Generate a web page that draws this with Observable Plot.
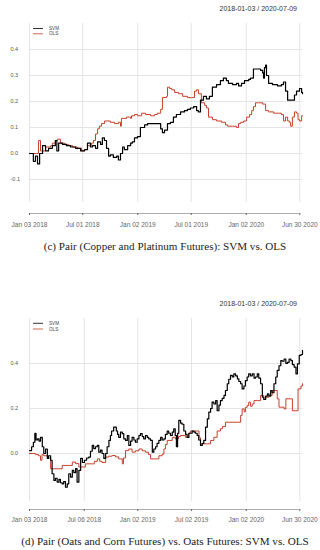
<!DOCTYPE html>
<html><head><meta charset="utf-8">
<script src="https://cdn.jsdelivr.net/npm/d3@7"></script>
<script src="https://cdn.jsdelivr.net/npm/@observablehq/plot@0.6"></script>
<style>
body{margin:0;background:#fff;}
#wrap{position:relative;width:320px;height:550px;overflow:hidden;font-family:"Liberation Sans",Arial,sans-serif;}
.abs{position:absolute;}
.range{font-size:7px;color:#333;right:23px;line-height:1;white-space:nowrap;}
.cap{font-family:"Liberation Serif","Times New Roman",serif;font-size:11.1px;color:#222;width:320px;text-align:center;left:5px;line-height:1;white-space:nowrap;}
</style></head>
<body><div id="wrap"></div>
<script>
// ---------- Chart (c): Copper and Platinum ----------
const svmC = [
["2018-01-03",0.000],["2018-01-16",-0.030],["2018-01-23",-0.010],["2018-01-30",-0.040],["2018-02-06",0.000],
["2018-02-16",0.030],["2018-02-26",0.010],["2018-03-08",0.020],["2018-03-21",0.030],["2018-03-31",0.050],
["2018-04-05",0.010],["2018-04-11",0.040],["2018-04-24",0.035],["2018-05-07",0.030],["2018-05-21",0.025],
["2018-06-07",0.020],["2018-06-24",0.010],["2018-07-07",0.015],["2018-07-17",0.040],["2018-07-27",0.025],
["2018-08-03",0.030],["2018-08-13",0.020],["2018-08-20",0.045],["2018-08-30",0.035],["2018-09-05",0.060],
["2018-09-12",0.050],["2018-09-19",0.020],["2018-09-26",-0.010],["2018-10-02",-0.005],["2018-10-12",-0.015],
["2018-10-23",-0.010],["2018-10-29",-0.025],["2018-11-05",0.000],["2018-11-12",0.025],["2018-11-18",0.015],
["2018-11-29",0.030],["2018-12-09",0.040],["2018-12-15",0.045],["2018-12-22",0.060],["2019-01-01",0.065],
["2019-01-11",0.100],["2019-01-25",0.110],["2019-02-04",0.115],["2019-02-21",0.115],["2019-03-09",0.115],
["2019-03-20",0.095],["2019-03-26",0.080],["2019-04-02",0.090],["2019-04-12",0.115],["2019-04-22",0.120],
["2019-05-02",0.140],["2019-05-12",0.150],["2019-05-26",0.160],["2019-06-08",0.165],["2019-06-18",0.170],
["2019-06-28",0.175],["2019-07-09",0.180],["2019-07-19",0.165],["2019-07-25",0.160],["2019-08-01",0.205],
["2019-08-11",0.220],["2019-08-21",0.210],["2019-08-31",0.220],["2019-09-10",0.255],["2019-09-24",0.265],
["2019-10-07",0.280],["2019-10-17",0.290],["2019-10-27",0.280],["2019-11-03",0.270],["2019-11-17",0.265],
["2019-11-30",0.270],["2019-12-07",0.260],["2019-12-17",0.270],["2019-12-27",0.280],["2020-01-10",0.285],
["2020-01-16",0.290],["2020-01-26",0.325],["2020-02-09",0.325],["2020-02-19",0.320],["2020-02-26",0.310],
["2020-02-29",0.290],["2020-03-03",0.330],["2020-03-07",0.340],["2020-03-10",0.300],["2020-03-17",0.270],
["2020-03-30",0.265],["2020-04-16",0.260],["2020-04-29",0.265],["2020-05-06",0.275],["2020-05-13",0.240],
["2020-05-20",0.205],["2020-06-05",0.205],["2020-06-12",0.225],["2020-06-19",0.240],["2020-06-29",0.250],
["2020-07-06",0.235],["2020-07-09",0.230]
];
const olsC = [
["2018-01-03",0.000],["2018-01-27",0.000],["2018-02-02",0.050],["2018-02-09",0.010],["2018-02-26",0.025],
["2018-03-15",0.030],["2018-03-21",0.040],["2018-03-31",0.050],["2018-04-07",0.055],["2018-04-17",0.040],
["2018-05-01",0.035],["2018-05-14",0.030],["2018-05-28",0.025],["2018-06-13",0.020],["2018-06-27",0.010],
["2018-07-07",0.015],["2018-07-17",0.030],["2018-07-31",0.040],["2018-08-06",0.050],["2018-08-13",0.075],
["2018-08-20",0.095],["2018-08-26",0.105],["2018-09-02",0.115],["2018-09-12",0.125],["2018-10-02",0.120],
["2018-10-16",0.115],["2018-10-29",0.120],["2018-11-05",0.105],["2018-11-08",0.135],["2018-11-25",0.140],
["2018-12-09",0.135],["2018-12-12",0.145],["2018-12-22",0.150],["2019-01-01",0.145],["2019-01-15",0.155],
["2019-01-28",0.150],["2019-02-14",0.145],["2019-02-27",0.150],["2019-03-09",0.155],["2019-03-20",0.170],
["2019-03-26",0.215],["2019-04-09",0.220],["2019-04-12",0.255],["2019-04-19",0.250],["2019-04-26",0.245],
["2019-05-06",0.235],["2019-05-19",0.230],["2019-06-02",0.220],["2019-06-18",0.215],["2019-07-02",0.215],
["2019-07-12",0.240],["2019-07-19",0.245],["2019-07-25",0.230],["2019-08-04",0.195],["2019-08-15",0.185],
["2019-08-21",0.175],["2019-08-28",0.140],["2019-09-10",0.130],["2019-09-24",0.125],["2019-10-11",0.120],
["2019-10-24",0.110],["2019-10-31",0.105],["2019-11-17",0.105],["2019-11-30",0.100],["2019-12-07",0.115],
["2019-12-14",0.120],["2019-12-24",0.125],["2020-01-03",0.140],["2020-01-13",0.150],["2020-01-20",0.165],
["2020-01-26",0.180],["2020-02-02",0.195],["2020-02-12",0.195],["2020-02-26",0.190],["2020-03-07",0.165],
["2020-03-17",0.160],["2020-04-03",0.155],["2020-04-19",0.155],["2020-04-29",0.150],["2020-05-06",0.125],
["2020-05-13",0.140],["2020-05-20",0.125],["2020-05-26",0.120],["2020-05-30",0.105],["2020-06-05",0.140],
["2020-06-12",0.160],["2020-06-19",0.155],["2020-06-24",0.130],["2020-06-29",0.125],["2020-07-06",0.145],
["2020-07-09",0.145]
];
const ticksC = ["2018-01-03","2018-07-01","2019-01-02","2019-07-01","2020-01-02","2020-06-30"];
const tickLabelsC = ["Jan 03 2018","Jul 01 2018","Jan 02 2019","Jul 01 2019","Jan 02 2020","Jun 30 2020"];
const yTicksC = [-0.1, 0.0, 0.1, 0.2, 0.3, 0.4];

// ---------- Chart (d): Oats and Corn ----------
const svmD = [
["2018-01-03",0.013],["2018-01-10",0.030],["2018-01-16",0.050],["2018-01-21",0.090],["2018-01-25",0.060],
["2018-01-30",0.065],["2018-02-04",0.055],["2018-02-09",0.072],["2018-02-15",0.030],["2018-02-20",0.000],
["2018-02-26",0.020],["2018-03-04",-0.022],["2018-03-08",-0.010],["2018-03-15",-0.030],["2018-03-20",-0.090],
["2018-03-26",-0.120],["2018-03-31",-0.110],["2018-04-06",-0.127],["2018-04-12",-0.115],["2018-04-17",-0.130],
["2018-04-23",-0.135],["2018-04-28",-0.125],["2018-05-04",-0.150],["2018-05-10",-0.135],["2018-05-15",-0.090],
["2018-05-21",-0.105],["2018-05-27",-0.075],["2018-06-01",-0.085],["2018-06-07",-0.067],["2018-06-12",-0.127],
["2018-06-18",-0.075],["2018-06-24",-0.022],["2018-06-30",-0.040],["2018-07-07",-0.030],["2018-07-14",-0.020],
["2018-07-21",-0.016],["2018-07-27",0.010],["2018-08-02",0.036],["2018-08-07",0.022],["2018-08-13",0.030],
["2018-08-19",0.036],["2018-08-24",0.006],["2018-08-30",0.015],["2018-09-04",0.000],["2018-09-10",-0.022],
["2018-09-16",0.000],["2018-09-21",0.030],["2018-09-27",0.058],["2018-10-02",0.080],["2018-10-06",0.100],
["2018-10-13",0.117],["2018-10-22",0.100],["2018-10-26",0.085],["2018-10-30",0.072],["2018-11-05",0.095],
["2018-11-11",0.088],["2018-11-16",0.065],["2018-11-22",0.058],["2018-11-28",0.080],["2018-12-03",0.036],
["2018-12-09",0.055],["2018-12-14",0.072],["2018-12-20",0.060],["2018-12-25",0.050],["2018-12-31",0.065],
["2019-01-06",0.080],["2019-01-11",0.088],["2019-01-17",0.075],["2019-01-22",0.065],["2019-01-28",0.080],
["2019-02-03",0.072],["2019-02-08",0.065],["2019-02-14",0.058],["2019-02-20",0.006],["2019-02-25",0.020],
["2019-03-03",0.030],["2019-03-08",0.045],["2019-03-14",0.058],["2019-03-20",0.072],["2019-03-25",0.060],
["2019-03-31",0.065],["2019-04-05",0.085],["2019-04-11",0.100],["2019-04-16",0.090],["2019-04-22",0.080],
["2019-04-28",0.095],["2019-05-03",0.110],["2019-05-08",0.080],["2019-05-12",0.030],["2019-05-16",0.090],
["2019-05-20",0.147],["2019-05-26",0.135],["2019-05-31",0.130],["2019-06-06",0.100],["2019-06-12",0.085],
["2019-06-17",0.072],["2019-06-23",0.090],["2019-06-28",0.090],["2019-07-04",0.100],["2019-07-10",0.095],
["2019-07-15",0.090],["2019-07-21",0.080],["2019-07-26",0.060],["2019-08-01",0.036],["2019-08-07",0.045],
["2019-08-12",0.058],["2019-08-18",0.117],["2019-08-24",0.154],["2019-08-29",0.184],["2019-09-04",0.200],
["2019-09-09",0.228],["2019-09-15",0.220],["2019-09-21",0.235],["2019-09-26",0.190],["2019-10-02",0.215],
["2019-10-07",0.235],["2019-10-13",0.245],["2019-10-19",0.258],["2019-10-24",0.280],["2019-10-30",0.310],
["2019-11-04",0.330],["2019-11-10",0.347],["2019-11-16",0.340],["2019-11-21",0.354],["2019-11-27",0.345],
["2019-12-03",0.332],["2019-12-08",0.320],["2019-12-14",0.310],["2019-12-19",0.287],["2019-12-25",0.300],
["2019-12-30",0.324],["2020-01-05",0.340],["2020-01-10",0.354],["2020-01-16",0.345],["2020-01-22",0.354],
["2020-01-28",0.335],["2020-02-02",0.340],["2020-02-08",0.354],["2020-02-13",0.335],["2020-02-19",0.310],
["2020-02-25",0.250],["2020-03-01",0.240],["2020-03-07",0.255],["2020-03-13",0.265],["2020-03-18",0.255],
["2020-03-24",0.280],["2020-03-29",0.270],["2020-04-04",0.310],["2020-04-10",0.340],["2020-04-15",0.369],
["2020-04-21",0.390],["2020-04-27",0.413],["2020-05-02",0.410],["2020-05-08",0.420],["2020-05-14",0.400],
["2020-05-19",0.405],["2020-05-25",0.420],["2020-05-31",0.413],["2020-06-05",0.395],["2020-06-11",0.384],
["2020-06-17",0.354],["2020-06-22",0.398],["2020-06-28",0.436],["2020-07-04",0.440],["2020-07-09",0.458]
];
const olsD = [
["2018-01-03",0.000],["2018-01-16",0.000],["2018-01-23",-0.005],["2018-02-02",-0.010],["2018-02-09",-0.030],
["2018-02-14",-0.005],["2018-02-20",-0.010],["2018-03-04",-0.020],["2018-03-15",-0.068],["2018-04-11",-0.068],
["2018-04-23",-0.053],["2018-05-15",-0.053],["2018-05-27",-0.038],["2018-06-07",-0.045],["2018-06-18",-0.060],
["2018-06-29",-0.060],["2018-07-10",-0.046],["2018-08-02",-0.046],["2018-08-09",-0.035],["2018-08-19",-0.024],
["2018-08-27",-0.035],["2018-09-04",-0.040],["2018-09-16",-0.016],["2018-09-26",-0.012],["2018-10-08",-0.009],
["2018-10-19",-0.015],["2018-10-30",-0.024],["2018-11-11",-0.046],["2018-11-15",-0.020],["2018-11-22",0.013],
["2018-12-03",0.020],["2018-12-14",0.006],["2018-12-25",0.012],["2019-01-06",0.020],["2019-01-17",0.012],
["2019-01-28",0.006],["2019-02-07",-0.005],["2019-02-14",-0.024],["2019-03-03",-0.024],["2019-03-14",-0.010],
["2019-03-25",-0.003],["2019-03-31",0.020],["2019-04-05",0.040],["2019-04-11",0.058],["2019-04-28",0.072],
["2019-05-08",0.065],["2019-05-19",0.075],["2019-05-26",0.080],["2019-06-12",0.072],["2019-06-22",0.090],
["2019-06-28",0.100],["2019-07-21",0.100],["2019-07-27",0.070],["2019-08-01",0.043],["2019-08-24",0.043],
["2019-09-04",0.058],["2019-09-15",0.072],["2019-09-26",0.100],["2019-10-07",0.110],["2019-10-14",0.120],
["2019-10-24",0.139],["2019-12-03",0.139],["2019-12-14",0.169],["2019-12-19",0.198],["2019-12-26",0.185],
["2019-12-30",0.205],["2020-01-05",0.213],["2020-01-10",0.228],["2020-01-16",0.210],["2020-01-22",0.220],
["2020-01-28",0.235],["2020-02-08",0.235],["2020-02-19",0.258],["2020-03-01",0.240],["2020-03-07",0.250],
["2020-03-18",0.258],["2020-03-29",0.280],["2020-04-10",0.280],["2020-04-15",0.243],["2020-04-21",0.206],
["2020-05-08",0.198],["2020-05-14",0.243],["2020-05-31",0.243],["2020-06-05",0.190],["2020-06-22",0.190],
["2020-06-24",0.287],["2020-07-04",0.300],["2020-07-09",0.310]
];
const ticksD = ["2018-01-03","2018-07-06","2019-01-02","2019-07-02","2020-01-02","2020-06-30"];
const tickLabelsD = ["Jan 03 2018","Jul 06 2018","Jan 02 2019","Jul 02 2019","Jan 02 2020","Jun 30 2020"];
const yTicksD = [0.0, 0.2, 0.4];

const seriesNames = ["SVM", "OLS"];
const seriesColors = ["#000000", "#c8402a"];
const rangeText = "2018-01-03 / 2020-07-09";
const captionC = "(c) Pair (Copper and Platinum Futures): SVM vs. OLS";
const captionD = "(d) Pair (Oats and Corn Futures) vs. Oats Futures: SVM vs. OLS";
const startDate = "2018-01-03", endDate = "2020-07-09";

const parse = d3.utcParse("%Y-%m-%d");
const grid = "#e4e4e4";

function makeChart({svm, ols, ticks, labels, yTicks, height, mTop, mBottom, yDomain, gridBottom, tickPadding}) {
  const S = svm.map(([d, v]) => ({date: parse(d), v}));
  const O = ols.map(([d, v]) => ({date: parse(d), v}));
  const T = ticks.map(parse);
  const labelMap = new Map(T.map((d, i) => [+d, labels[i]]));
  const x0 = parse(startDate), x1 = parse(endDate);
  return Plot.plot({
    width: 320, height,
    marginTop: mTop, marginBottom: mBottom, marginLeft: 29, marginRight: 18,
    x: {type: "utc", domain: [x0, x1], label: null},
    y: {domain: yDomain, label: null},
    style: {fontFamily: "'Liberation Sans', Arial, sans-serif", background: "transparent", overflow: "visible"},
    marks: [
      Plot.ruleY(yTicks, {x1: () => x0, x2: () => x1, stroke: grid, strokeWidth: 1}),
      Plot.ruleX(T, {x: d => d, y1: () => gridBottom, y2: () => yDomain[1], stroke: grid, strokeWidth: 1}),
      Plot.ruleY([yDomain[0]], {x1: () => T[0], x2: () => T[T.length - 1], stroke: "#9a9a9a", strokeWidth: 0.8}),
      Plot.axisX({ticks: T, tickFormat: d => labelMap.get(+d), tickSize: 2, tickPadding, fontSize: 6.5, color: "#666", label: null}),
      Plot.axisY({ticks: yTicks, tickFormat: d => d.toFixed(1), tickSize: 0, tickPadding: 19, textAnchor: "start", fontSize: 5.5, color: "#555", label: null}),
      Plot.line(O, {x: "date", y: "v", curve: "step-after", stroke: seriesColors[1], strokeWidth: 1}),
      Plot.line(S, {x: "date", y: "v", curve: "step-after", stroke: seriesColors[0], strokeWidth: 1.2})
    ]
  });
}

const wrap = document.getElementById("wrap");

const c1 = makeChart({svm: svmC, ols: olsC, ticks: ticksC, labels: tickLabelsC, yTicks: yTicksC,
  height: 236, mTop: 23, mBottom: 23, yDomain: [-0.2308, 0.5], gridBottom: -0.1885, tickPadding: 6.5});
c1.classList.add("abs"); c1.style.left = "0px"; c1.style.top = "0px";
wrap.appendChild(c1);

const c2 = makeChart({svm: svmD, ols: olsD, ticks: ticksD, labels: tickLabelsD, yTicks: yTicksD,
  height: 240, mTop: 28, mBottom: 21, yDomain: [-0.2489, 0.6], gridBottom: -0.2133, tickPadding: 5.5});
c2.classList.add("abs"); c2.style.left = "0px"; c2.style.top = "290px";
wrap.appendChild(c2);

function addDiv(cls, text, top) {
  const d = document.createElement("div");
  d.className = "abs " + cls; d.textContent = text; d.style.top = top + "px";
  wrap.appendChild(d);
}
addDiv("range", rangeText, 4.5);
addDiv("range", rangeText, 299.5);
addDiv("cap", captionC, 241);
addDiv("cap", captionD, 536);

// legends
const ns = "http://www.w3.org/2000/svg";
const lg = document.createElementNS(ns, "svg");
lg.setAttribute("width", 320); lg.setAttribute("height", 550);
lg.setAttribute("class", "abs"); lg.style.left = "0px"; lg.style.top = "0px";
[[28.5, 33.8], [323.3, 329]].forEach(rows => {
  rows.forEach((y, i) => {
    const l = document.createElementNS(ns, "line");
    l.setAttribute("x1", 33); l.setAttribute("x2", 43); l.setAttribute("y1", y); l.setAttribute("y2", y);
    l.setAttribute("stroke", seriesColors[i]); l.setAttribute("stroke-width", 0.8);
    lg.appendChild(l);
    const t = document.createElementNS(ns, "text");
    t.setAttribute("x", 49); t.setAttribute("y", y + 1.6);
    t.setAttribute("font-size", 4.6); t.setAttribute("fill", "#444");
    t.setAttribute("font-family", "'Liberation Sans', Arial, sans-serif");
    t.textContent = seriesNames[i];
    lg.appendChild(t);
  });
});
wrap.appendChild(lg);
</script></body></html>
